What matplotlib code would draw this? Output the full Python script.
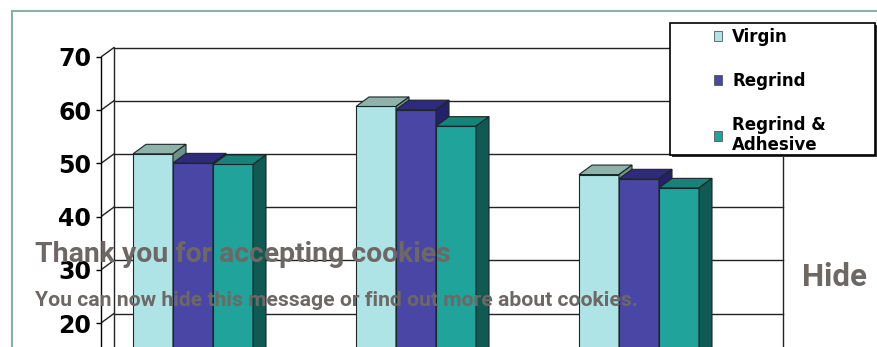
import matplotlib
matplotlib.use("Agg")
import matplotlib.pyplot as plt
from matplotlib.patches import Polygon, Rectangle, Patch
from matplotlib.lines import Line2D

# data (3 groups, x labels are cut off in the reference)
series = ["Virgin", "Regrind", "Regrind &\nAdhesive"]
virgin = [51.8, 60.7, 47.9]
regrind = [50.1, 60.1, 47.1]
adhesive = [49.8, 57.0, 45.4]
yticks = [20, 30, 40, 50, 60, 70]  # the visible ones

# face colours: front, top, side
front_cols = ["#aee4e6", "#4a46a6", "#1fa39a"]
top_cols = ["#8fb3aa", "#2e2a7e", "#178278"]
side_cols = ["#6f918a", "#25206a", "#0f5a53"]
edge = "#1c2626"

W, H = 877, 347
fig = plt.figure(figsize=(W / 100, H / 100), dpi=100)

# pixel geometry of the front plane
cat_px, unit_px = 223.0, 5.32
x0_px, y70_px = 101, 57
xmax, ymax = 3.25, 76
top_px = y70_px - (ymax - 70) * unit_px
bot_px = y70_px + 70 * unit_px
ax = fig.add_axes([x0_px / W, 1 - bot_px / H, xmax * cat_px / W, (bot_px - top_px) / H])
ax.set_xlim(0, xmax)
ax.set_ylim(0, ymax)

# 3d depth offset
dx = 13 / cat_px
dy = 9.5 / unit_px
n = len(virgin)

# back wall, gridlines and the little diagonals to the front axis
for t in yticks:
    ax.plot([dx, n + dx], [t + dy, t + dy], color="#222222", lw=1, zorder=1)
    ax.plot([0, dx], [t, t + dy], color="#222222", lw=1, zorder=1)
ax.plot([dx, dx], [dy, 70 + dy], color="#222222", lw=1, zorder=1)
ax.plot([n + dx, n + dx], [dy, 70 + dy], color="#222222", lw=1, zorder=1)

# bars
start = 32 / cat_px
bw = 40 / cat_px
for i in range(n):
    for j, vals in enumerate([virgin, regrind, adhesive]):
        v = vals[i]
        x = i + start + j * bw
        ax.bar(x, v, width=bw, align="edge", color=front_cols[j],
               edgecolor=edge, lw=0.8, zorder=3)
        ax.add_patch(Polygon([(x, v), (x + bw, v), (x + bw + dx, v + dy), (x + dx, v + dy)],
                             closed=True, facecolor=top_cols[j], edgecolor=edge, lw=0.8, zorder=3))
        ax.add_patch(Polygon([(x + bw, 0), (x + bw, v), (x + bw + dx, v + dy), (x + bw + dx, dy)],
                             closed=True, facecolor=side_cols[j], edgecolor=edge, lw=0.8, zorder=3))

# axis
for s in ["top", "right", "bottom"]:
    ax.spines[s].set_visible(False)
ax.spines["left"].set_bounds(0, 70)
ax.spines["left"].set_linewidth(1)
ax.set_xticks([])
ax.set_yticks(yticks)
ax.set_yticklabels([str(t) for t in yticks], fontweight="bold", fontsize=17)
ax.tick_params(axis="y", length=3.6, width=1, pad=3.5)
ax.patch.set_alpha(0)

# outer chart border
border = "#86b0a3"
fig.add_artist(Line2D([12 / W, 1], [1 - 11 / H, 1 - 11 / H], color=border, lw=1.5))
fig.add_artist(Line2D([12 / W, 12 / W], [0, 1 - 11 / H], color=border, lw=1.5))

# legend box with shadow
fig.add_artist(Rectangle((672 / W, 1 - 157 / H), 206 / W, 132 / H, transform=fig.transFigure,
                         facecolor="#333333", edgecolor="none", zorder=1))
fig.add_artist(Rectangle((670 / W, 1 - 155 / H), 205 / W, 132 / H, transform=fig.transFigure,
                         facecolor="white", edgecolor="black", lw=1.2, zorder=1.5))
handles = [Patch(facecolor=front_cols[k], edgecolor="#555555", lw=0.6) for k in range(3)]
fig.legend(handles, series, loc="upper left", bbox_to_anchor=(714 / W, 1 - 28 / H),
           frameon=False, prop={"weight": "bold", "size": 12},
           handlelength=0.5, handleheight=0.5, handletextpad=0.6,
           labelspacing=1.55, borderpad=0, borderaxespad=0)

# cookie banner text sitting over the chart
grey = "#6d6865"
fig.text(35 / W, 1 - 262 / H, "Thank you for accepting cookies", family="Roboto",
         fontweight="bold", fontsize=20.4, color=grey, va="baseline")
fig.text(35 / W, 1 - 306.5 / H, "You can now hide this message or find out more about cookies.",
         family="Roboto", fontweight="bold", fontsize=15.2, color=grey, va="baseline")
fig.text(802 / W, 1 - 286 / H, "Hide", family="Roboto", fontweight="bold",
         fontsize=22.5, color=grey, va="baseline")

fig.savefig("out.png", dpi=100, facecolor="white")
